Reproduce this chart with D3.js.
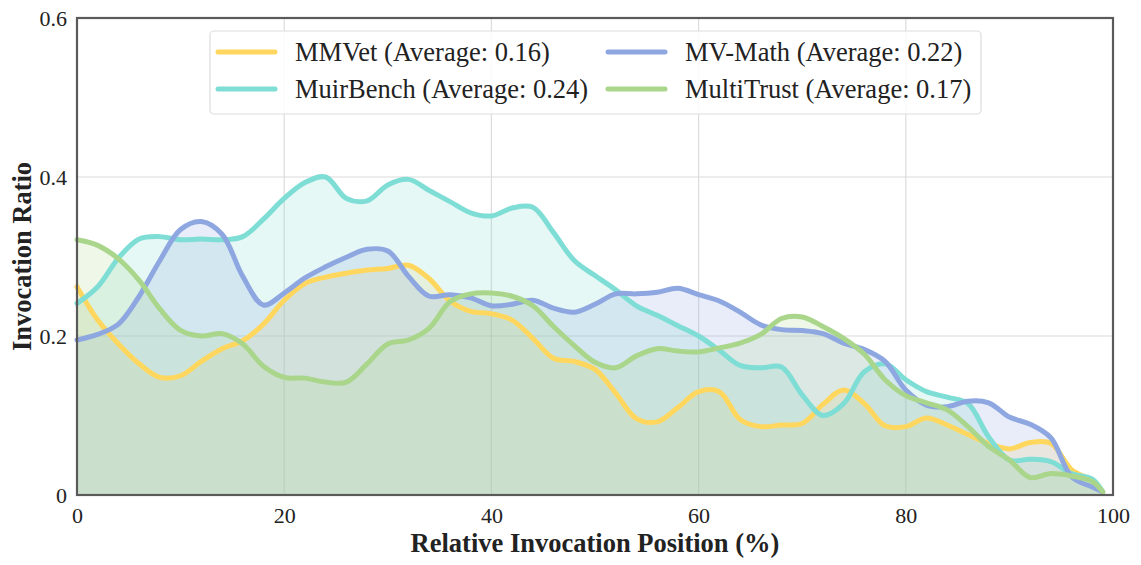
<!DOCTYPE html>
<html>
<head>
<meta charset="utf-8">
<script src="https://cdn.jsdelivr.net/npm/d3@7"></script>
<style>
  body { margin: 0; background: #fff; }
  text { font-family: "Liberation Serif", "Times New Roman", serif; fill: #222; }
</style>
</head>
<body>
<div id="chart"></div>
<script>
const positions = [0,2,4,6,8,10,12,14,16,18,20,22,24,26,28,30,32,34,36,38,40,42,44,46,48,50,
  52,54,56,58,60,62,64,66,68,70,72,74,76,78,80,82,84,86,88,90,92,94,96,98,99];

const mmvet = [0.262,0.22,0.19,0.165,0.148,0.15,0.168,0.184,0.194,0.215,0.245,0.266,0.274,0.279,0.283,0.285,0.289,0.272,0.244,0.231,0.228,
  0.22,0.197,0.172,0.168,0.158,0.128,0.096,0.092,0.11,0.13,0.13,0.095,0.086,0.088,0.09,0.114,0.132,0.115,0.087,0.086,
  0.097,0.088,0.076,0.065,0.058,0.066,0.065,0.032,0.018,0.004];
const muirbench = [0.241,0.262,0.298,0.322,0.325,0.321,0.322,0.321,0.325,0.347,0.373,0.393,0.4,0.373,0.37,0.39,0.397,0.383,0.369,0.355,0.351,
  0.361,0.362,0.33,0.295,0.276,0.258,0.238,0.226,0.213,0.2,0.182,0.163,0.16,0.161,0.126,0.1,0.115,0.155,0.165,0.145,
  0.13,0.123,0.115,0.073,0.044,0.045,0.042,0.027,0.02,0.004];
const mvmath = [0.195,0.202,0.215,0.25,0.295,0.334,0.344,0.328,0.275,0.239,0.254,0.273,0.287,0.299,0.309,0.307,0.275,0.25,0.252,0.248,0.238,
  0.24,0.245,0.235,0.23,0.24,0.253,0.253,0.255,0.26,0.252,0.244,0.23,0.214,0.208,0.207,0.203,0.191,0.183,0.168,0.132,
  0.113,0.111,0.118,0.116,0.098,0.089,0.072,0.023,0.01,0.004];
const multitrust = [0.321,0.314,0.297,0.27,0.234,0.207,0.2,0.203,0.19,0.162,0.148,0.147,0.142,0.142,0.165,0.19,0.195,0.21,0.243,0.253,0.254,
  0.25,0.238,0.212,0.188,0.167,0.16,0.175,0.184,0.181,0.18,0.185,0.191,0.202,0.222,0.224,0.212,0.197,0.177,0.145,0.125,
  0.116,0.107,0.086,0.061,0.044,0.022,0.027,0.024,0.017,0.004];

const seriesNames = ["MMVet", "MuirBench", "MV-Math", "MultiTrust"];
const averages = ["0.16", "0.24", "0.22", "0.17"];
const seriesValues = [mmvet, muirbench, mvmath, multitrust];
const colors = ["#ffd75e", "#7eddd4", "#8ea7e0", "#a9d68a"];
const xTicks = [0, 20, 40, 60, 80, 100];
const yTicks = [0, 0.2, 0.4, 0.6];

const W = 1141, H = 565;
const margin = { left: 77, right: 28, top: 18, bottom: 70 };

const svg = d3.select("#chart").append("svg")
  .attr("width", W).attr("height", H);

const x = d3.scaleLinear().domain([0, 100]).range([margin.left, W - margin.right]);
const y = d3.scaleLinear().domain([0, 0.6]).range([H - margin.bottom, margin.top]);

// grid
const grid = svg.append("g");
grid.selectAll("line.gx").data(xTicks.slice(1, -1)).join("line")
  .attr("x1", d => x(d)).attr("x2", d => x(d))
  .attr("y1", y(0)).attr("y2", y(0.6))
  .attr("stroke", "#dcdcdc").attr("stroke-width", 1.2);
grid.selectAll("line.gy").data(yTicks.slice(1, -1)).join("line")
  .attr("x1", x(0)).attr("x2", x(100))
  .attr("y1", d => y(d)).attr("y2", d => y(d))
  .attr("stroke", "#dcdcdc").attr("stroke-width", 1.2);

const area = d3.area()
  .x(d => x(d[0])).y0(y(0)).y1(d => y(d[1]))
  .curve(d3.curveCatmullRom.alpha(0.5));
const line = d3.line()
  .x(d => x(d[0])).y(d => y(d[1]))
  .curve(d3.curveCatmullRom.alpha(0.5));

const plot = svg.append("g");
seriesValues.forEach((vals, i) => {
  const pts = positions.map((p, j) => [p, vals[j]]);
  plot.append("path").attr("d", area(pts))
    .attr("fill", colors[i]).attr("fill-opacity", 0.2);
});
seriesValues.forEach((vals, i) => {
  const pts = positions.map((p, j) => [p, vals[j]]);
  plot.append("path").attr("d", line(pts))
    .attr("fill", "none").attr("stroke", colors[i])
    .attr("stroke-width", 5).attr("stroke-linejoin", "round").attr("stroke-linecap", "round");
});

// frame
svg.append("rect")
  .attr("x", x(0)).attr("y", y(0.6))
  .attr("width", x(100) - x(0)).attr("height", y(0) - y(0.6))
  .attr("fill", "none").attr("stroke", "#5a5a5a").attr("stroke-width", 2.2);

// axes
const xAxis = svg.append("g").attr("transform", `translate(0,${y(0)})`)
  .call(d3.axisBottom(x).tickValues(xTicks).tickSize(0).tickPadding(12).tickFormat(d3.format("d")));
const yAxis = svg.append("g").attr("transform", `translate(${x(0)},0)`)
  .call(d3.axisLeft(y).tickValues(yTicks).tickSize(0).tickPadding(10).tickFormat(d => d === 0 ? "0" : d3.format(".1f")(d)));
[xAxis, yAxis].forEach(a => {
  a.select(".domain").remove();
  a.selectAll("text").attr("font-size", 22).attr("font-family", "Liberation Serif").attr("fill", "#222");
});

svg.append("text")
  .attr("x", x(50)).attr("y", 552)
  .attr("text-anchor", "middle").attr("font-size", 26.5).attr("font-weight", "bold")
  .text("Relative Invocation Position (%)");
svg.append("text")
  .attr("transform", `translate(31,${y(0.3)}) rotate(-90)`)
  .attr("text-anchor", "middle").attr("font-size", 26.5).attr("font-weight", "bold")
  .text("Invocation Ratio");

// legend
const legend = svg.append("g");
legend.append("rect")
  .attr("x", 210).attr("y", 31).attr("width", 771).attr("height", 83).attr("rx", 4)
  .attr("fill", "#fff").attr("fill-opacity", 0.85).attr("stroke", "#dddddd").attr("stroke-width", 1.2);
const legendPos = [[218, 52], [218, 89], [608, 52], [608, 89]];
seriesNames.forEach((name, i) => {
  const [lx, ly] = legendPos[i];
  legend.append("line")
    .attr("x1", lx).attr("x2", lx + 57).attr("y1", ly).attr("y2", ly)
    .attr("stroke", colors[i]).attr("stroke-width", 5).attr("stroke-linecap", "round");
  legend.append("text")
    .attr("x", lx + 77).attr("y", ly).attr("dy", "0.35em")
    .attr("font-size", 26.5)
    .text(`${name} (Average: ${averages[i]})`);
});
</script>
</body>
</html>
